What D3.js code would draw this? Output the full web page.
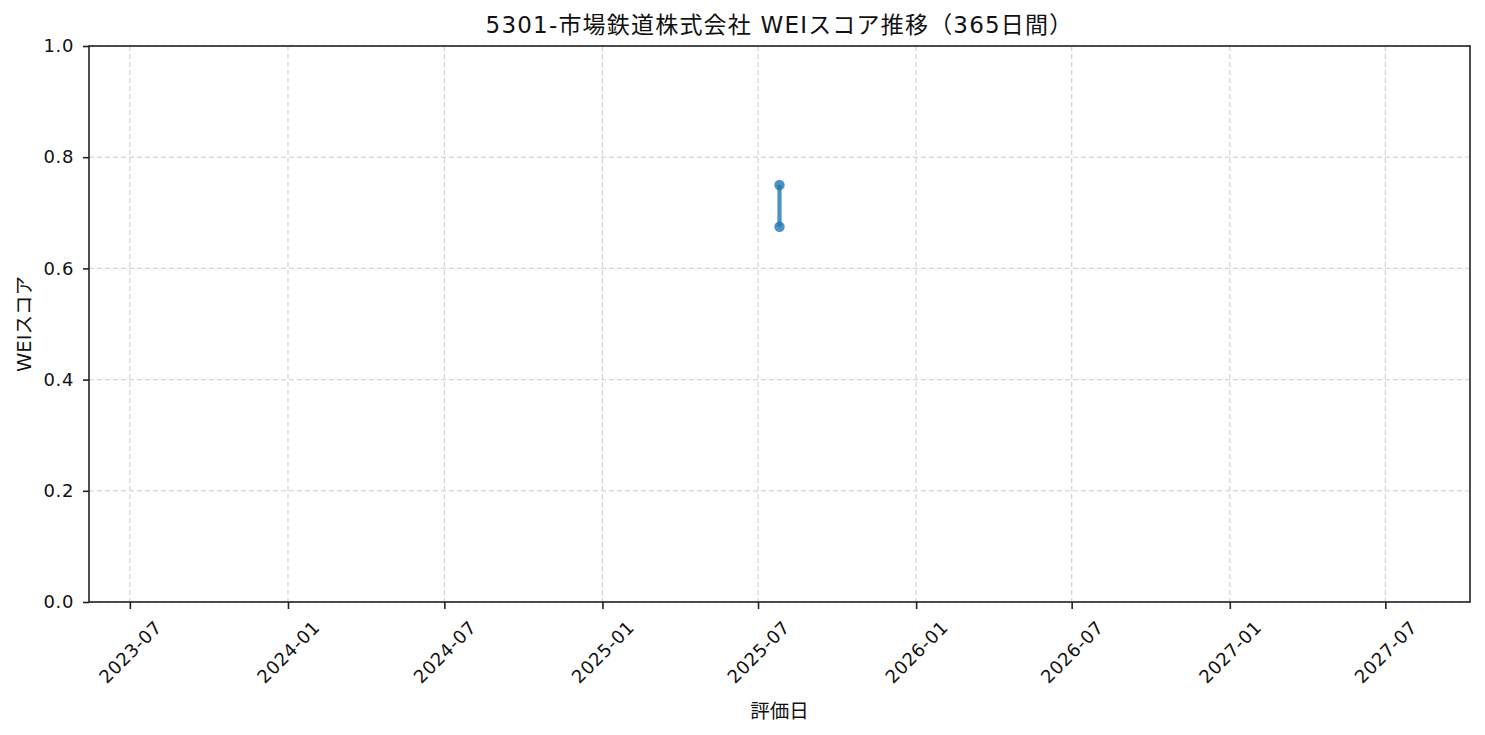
<!DOCTYPE html>
<html><head><meta charset="utf-8">
<script src="https://cdn.jsdelivr.net/npm/d3@7"></script>
<style>
body{margin:0;background:#fff;}
text{font-family:"DejaVu Sans","Noto Sans CJK JP",sans-serif;fill:#111;}
</style></head>
<body><svg id="c" width="1485" height="735"></svg>
<script>
const titleText = "5301-市場鉄道株式会社 WEIスコア推移（365日間）";
const xLabel = "評価日";
const yLabel = "WEIスコア";
const dates = ["2025-07-26", "2025-07-26"];
const scores = [0.75, 0.675];
const yTicks = [0.0, 0.2, 0.4, 0.6, 0.8, 1.0];
const xTickLabels = ["2023-07","2024-01","2024-07","2025-01","2025-07","2026-01","2026-07","2027-01","2027-07"];

const parse = d3.utcParse("%Y-%m-%d");
const parseM = d3.utcParse("%Y-%m");
const data = dates.map((d,i)=>({date:parse(d), v:scores[i]}));

const svg = d3.select("#c");
const m = {l:89, r:1470, t:46, b:602};
const DAY = 86400000;
const ext = d3.extent(data, d=>d.date);
const half = 730.5*1.1*DAY;
const x = d3.scaleUtc().domain([new Date(+ext[0]-half), new Date(+ext[1]+half)]).range([m.l, m.r]);
const y = d3.scaleLinear().domain([0,1]).range([m.b, m.t]);
const xt = xTickLabels.map(s=>parseM(s));

// grid
const g = svg.append("g");
g.selectAll(".gx").data(xt).join("line")
  .attr("x1",d=>x(d)).attr("x2",d=>x(d)).attr("y1",m.t).attr("y2",m.b)
  .attr("stroke","#d6d6d6").attr("stroke-width",1.3).attr("stroke-dasharray","5,3");
g.selectAll(".gy").data(yTicks).join("line")
  .attr("x1",m.l).attr("x2",m.r).attr("y1",d=>y(d)).attr("y2",d=>y(d))
  .attr("stroke","#d6d6d6").attr("stroke-width",1.3).attr("stroke-dasharray","5,3");

// axes
const xa = svg.append("g").attr("transform",`translate(0,${m.b})`)
  .call(d3.axisBottom(x).tickValues(xt).tickFormat(d3.utcFormat("%Y-%m")).tickSize(7).tickSizeOuter(0));
xa.select(".domain").remove();
xa.selectAll(".tick line").attr("stroke","#222").attr("stroke-width",1.6);
xa.selectAll(".tick text").attr("font-size",18).attr("letter-spacing","0.6px").attr("fill","#111")
  .attr("text-anchor","middle").attr("y",0).attr("dy","0.35em")
  .attr("transform","translate(0,50) rotate(-45)");

const ya = svg.append("g").attr("transform",`translate(${m.l},0)`)
  .call(d3.axisLeft(y).tickValues(yTicks).tickFormat(d3.format(".1f")).tickSize(6).tickSizeOuter(0));
ya.select(".domain").remove();
ya.selectAll(".tick line").attr("stroke","#222").attr("stroke-width",1.6);
ya.selectAll(".tick text").attr("font-size",18).attr("letter-spacing","0.6px").attr("fill","#111").attr("x",-15);

svg.append("rect").attr("x",m.l).attr("y",m.t).attr("width",m.r-m.l).attr("height",m.b-m.t)
  .attr("fill","none").attr("stroke","#222").attr("stroke-width",1.6);

// line + points
svg.append("path").datum(data)
  .attr("d", d3.line().x(d=>x(d.date)).y(d=>y(d.v)))
  .attr("fill","none").attr("stroke","#1f77b4").attr("stroke-opacity",0.8).attr("stroke-width",4.2);
svg.selectAll(".pt").data(data).join("circle")
  .attr("cx",d=>x(d.date)).attr("cy",d=>y(d.v)).attr("r",5.2)
  .attr("fill","#1f77b4").attr("fill-opacity",0.8);

// labels
svg.append("text").attr("x",(m.l+m.r)/2).attr("y",25).attr("dy","0.35em").attr("text-anchor","middle")
  .attr("font-size",23).attr("letter-spacing","1.2px").text(titleText);
svg.append("text").attr("x",(m.l+m.r)/2).attr("y",711).attr("dy","0.35em").attr("text-anchor","middle")
  .attr("font-size",19.5).text(xLabel);
svg.append("text").attr("transform",`translate(24,${(m.t+m.b)/2}) rotate(-90)`).attr("dy","0.35em").attr("text-anchor","middle")
  .attr("font-size",19.5).text(yLabel);
</script></body></html>
